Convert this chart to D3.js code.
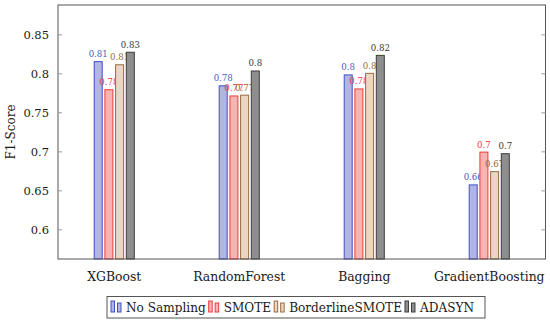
<!DOCTYPE html>
<html>
<head>
<meta charset="utf-8">
<script src="https://cdn.jsdelivr.net/npm/d3@7"></script>
<style>
  body { margin: 0; background: #fff; }
</style>
</head>
<body>
<div id="chart"></div>
<script>
// chart data
var models = ["XGBoost", "RandomForest", "Bagging", "GradientBoosting"];
var methods = ["No Sampling", "SMOTE", "BorderlineSMOTE", "ADASYN"];
var noSampling = [0.815, 0.784, 0.798, 0.657];
var smote = [0.779, 0.771, 0.780, 0.699];
var borderline = [0.811, 0.772, 0.800, 0.674];
var adasyn = [0.827, 0.803, 0.823, 0.697];
var yTicks = [0.6, 0.65, 0.7, 0.75, 0.8, 0.85];

var series = [noSampling, smote, borderline, adasyn];
var strokes = ["#3f4fc8", "#f03a3a", "#9a6b3e", "#3c3c3c"];
var fills = ["#b4b4e2", "#f9b3b3", "#ead6c2", "#8e8e8e"];
var labelColors = ["#4657c4", "#f2343a", "#94693f", "#333333"];

var serif = "'DejaVu Serif', serif";

var svgWidth = 550;
var svgHeight = 326;

var plot = { left: 58, right: 545.5, top: 5, bottom: 259 };

var svg = d3.select("#chart")
  .append("svg")
  .attr("width", svgWidth)
  .attr("height", svgHeight)
  .style("font-family", serif);

var x = d3.scalePoint()
  .domain(models)
  .range([plot.left, plot.right])
  .padding(0.45);

var y = d3.scaleLinear()
  .domain([0.562, 0.8876])
  .range([plot.bottom, plot.top]);

var barW = 8;
var barStep = 10.7;

// bars
series.forEach(function(vals, s) {
  var g = svg.append("g");
  g.selectAll("rect")
    .data(vals)
    .enter()
    .append("rect")
    .attr("x", (d, i) => x(models[i]) + (s - 1.5) * barStep - barW / 2)
    .attr("y", d => y(d))
    .attr("width", barW)
    .attr("height", d => plot.bottom - y(d))
    .attr("fill", fills[s])
    .attr("stroke", strokes[s])
    .attr("stroke-width", 1);

  g.selectAll("text")
    .data(vals)
    .enter()
    .append("text")
    .attr("x", (d, i) => x(models[i]) + (s - 1.5) * barStep)
    .attr("y", d => y(d) - 4.5)
    .attr("text-anchor", "middle")
    .style("font-family", serif)
    .attr("font-size", 8.6)
    .attr("fill", labelColors[s])
    .text(d => +d.toFixed(2));
});

// frame
svg.append("rect")
  .attr("x", plot.left)
  .attr("y", plot.top)
  .attr("width", plot.right - plot.left)
  .attr("height", plot.bottom - plot.top)
  .attr("fill", "none")
  .attr("stroke", "#555")
  .attr("stroke-width", 1);

// y axis (ticks inward on both sides)
var leftAxis = d3.axisLeft(y)
  .tickValues(yTicks)
  .tickSize(-4)
  .tickPadding(9)
  .tickFormat(d => String(+d.toFixed(2)));

var ly = svg.append("g")
  .attr("transform", `translate(${plot.left}, 0)`)
  .call(leftAxis);
ly.select(".domain").remove();
ly.selectAll("line").attr("stroke", "#999");
ly.selectAll("text")
  .attr("fill", "#1a1a1a")
  .style("font-family", serif)
  .style("font-size", "11.5px");

var ry = svg.append("g")
  .attr("transform", `translate(${plot.right}, 0)`)
  .call(d3.axisRight(y).tickValues(yTicks).tickSize(-4).tickFormat(""));
ry.select(".domain").remove();
ry.selectAll("line").attr("stroke", "#999");

// x labels
svg.append("g")
  .selectAll("text")
  .data(models)
  .enter()
  .append("text")
  .attr("x", d => x(d))
  .attr("y", 281)
  .attr("text-anchor", "middle")
  .style("font-family", serif)
  .attr("font-size", 12.4)
  .attr("fill", "#1a1a1a")
  .text(d => d);

// y label
svg.append("text")
  .attr("transform", `translate(15, ${(plot.top + plot.bottom) / 2}) rotate(-90)`)
  .attr("text-anchor", "middle")
  .style("font-family", serif)
  .attr("font-size", 12)
  .attr("fill", "#1a1a1a")
  .text("F1-Score");

// legend
var legend = svg.append("g");
var box = legend.append("rect")
  .attr("y", 296.5)
  .attr("height", 21.5)
  .attr("fill", "#fff")
  .attr("stroke", "#555")
  .attr("stroke-width", 1);

var lx = 111;
methods.forEach(function(m, s) {
  legend.append("rect")
    .attr("x", lx).attr("y", 301).attr("width", 3.5).attr("height", 11)
    .attr("fill", fills[s]).attr("stroke", strokes[s]).attr("stroke-width", 1);
  legend.append("rect")
    .attr("x", lx + 6.5).attr("y", 303).attr("width", 3.5).attr("height", 9)
    .attr("fill", fills[s]).attr("stroke", strokes[s]).attr("stroke-width", 1);
  var t = legend.append("text")
    .attr("x", lx + 15)
    .attr("y", 312)
    .style("font-family", serif)
    .attr("font-size", 12.1)
    .attr("fill", "#1a1a1a")
    .text(m);
  lx = lx + 15 + t.node().getComputedTextLength() + 3;
});
box.attr("x", 107).attr("width", lx + 8 - 107);
</script>
</body>
</html>
